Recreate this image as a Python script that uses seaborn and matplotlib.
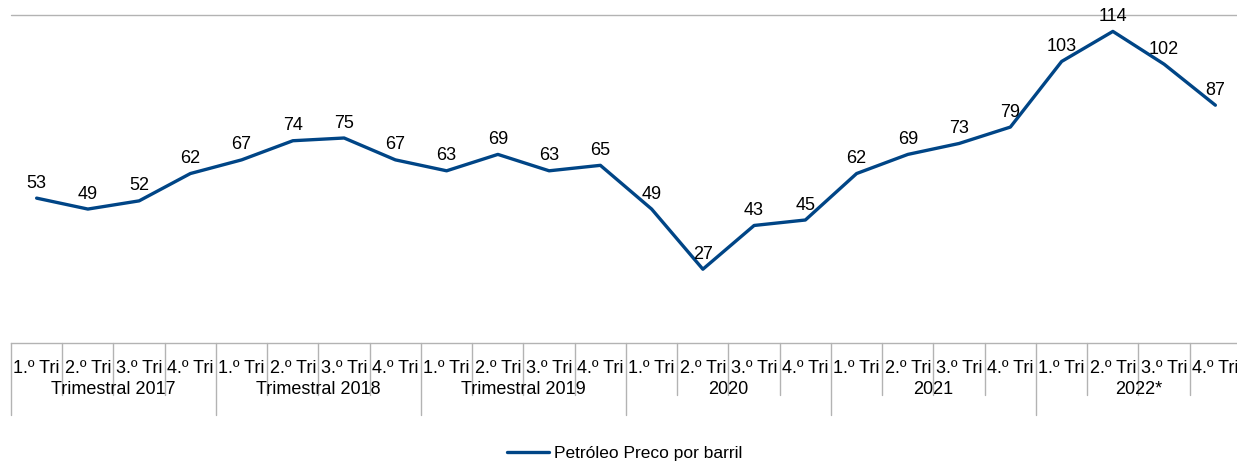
import matplotlib
matplotlib.use("Agg")
import matplotlib.pyplot as plt
import seaborn as sns
import pandas as pd
from matplotlib.lines import Line2D

quarters = ["1.º Tri", "2.º Tri", "3.º Tri", "4.º Tri"]
groups = ["Trimestral 2017", "Trimestral 2018", "Trimestral 2019", "2020", "2021", "2022*"]
values = [53, 49, 52, 62, 67, 74, 75, 67, 63, 69, 63, 65,
          49, 27, 43, 45, 62, 69, 73, 79, 103, 114, 102, 87]
series_name = "Petróleo Preco por barril"

sns.set_theme(style="white")
plt.rcParams["font.family"] = ["Liberation Sans", "DejaVu Sans"]
plt.rcParams["text.color"] = "#000000"

W, H = 1237, 461
fig = plt.figure(figsize=(W / 100, H / 100), dpi=100)
ax_left, ax_right, ax_top, ax_bot = 11, 1241, 15, 343
ax = fig.add_axes([ax_left / W, (H - ax_bot) / H, (ax_right - ax_left) / W, (ax_bot - ax_top) / H])

n = len(values)
df = pd.DataFrame({"idx": list(range(n)), "value": values, "series": series_name})
sns.lineplot(data=df, x="idx", y="value", hue="series", palette=["#004586"],
             linewidth=2.4, ax=ax, legend=False)

ax.set_xlim(-0.5, n - 0.5)
ax.set_ylim(0, 120)
for s in ["left", "right", "top"]:
    ax.spines[s].set_visible(False)
ax.spines["bottom"].set_color("#b3b3b3")
ax.spines["bottom"].set_linewidth(1)
ax.axhline(120, color="#b3b3b3", linewidth=1, clip_on=False)
ax.set_yticks([])
ax.set_xticks([])
ax.set_xlabel("")
ax.set_ylabel("")

FS = 13

# data labels
for i, v in enumerate(values):
    ax.annotate(str(v), (i, v), xytext=(0, 15), textcoords="offset pixels",
                ha="center", va="center", fontsize=FS, color="#000000")

axh = ax_bot - ax_top
tr = ax.get_xaxis_transform()
for i in range(n):
    ax.text(i, -25 / axh, quarters[i % 4], transform=tr, ha="center", va="center",
            fontsize=FS, color="#000000", clip_on=False)
for k in range(n + 1):
    depth = -72 / axh if k % 4 == 0 else -52 / axh
    ax.plot([k - 0.5, k - 0.5], [0, depth], transform=tr, color="#b3b3b3",
            linewidth=1, clip_on=False)
for g, name in enumerate(groups):
    ax.text(g * 4 + 1.5, -46 / axh, name, transform=tr, ha="center", va="center",
            fontsize=FS, color="#000000", clip_on=False)

handle = Line2D([0], [0], color="#004586", linewidth=2.4)
fig.legend([handle], [series_name], loc="center", bbox_to_anchor=(625 / W, 8 / H),
           frameon=False, fontsize=12.5, handlelength=2.4, handletextpad=0.3,
           borderaxespad=0, borderpad=0, labelcolor="#000000")

fig.savefig("out.png", dpi=100)
